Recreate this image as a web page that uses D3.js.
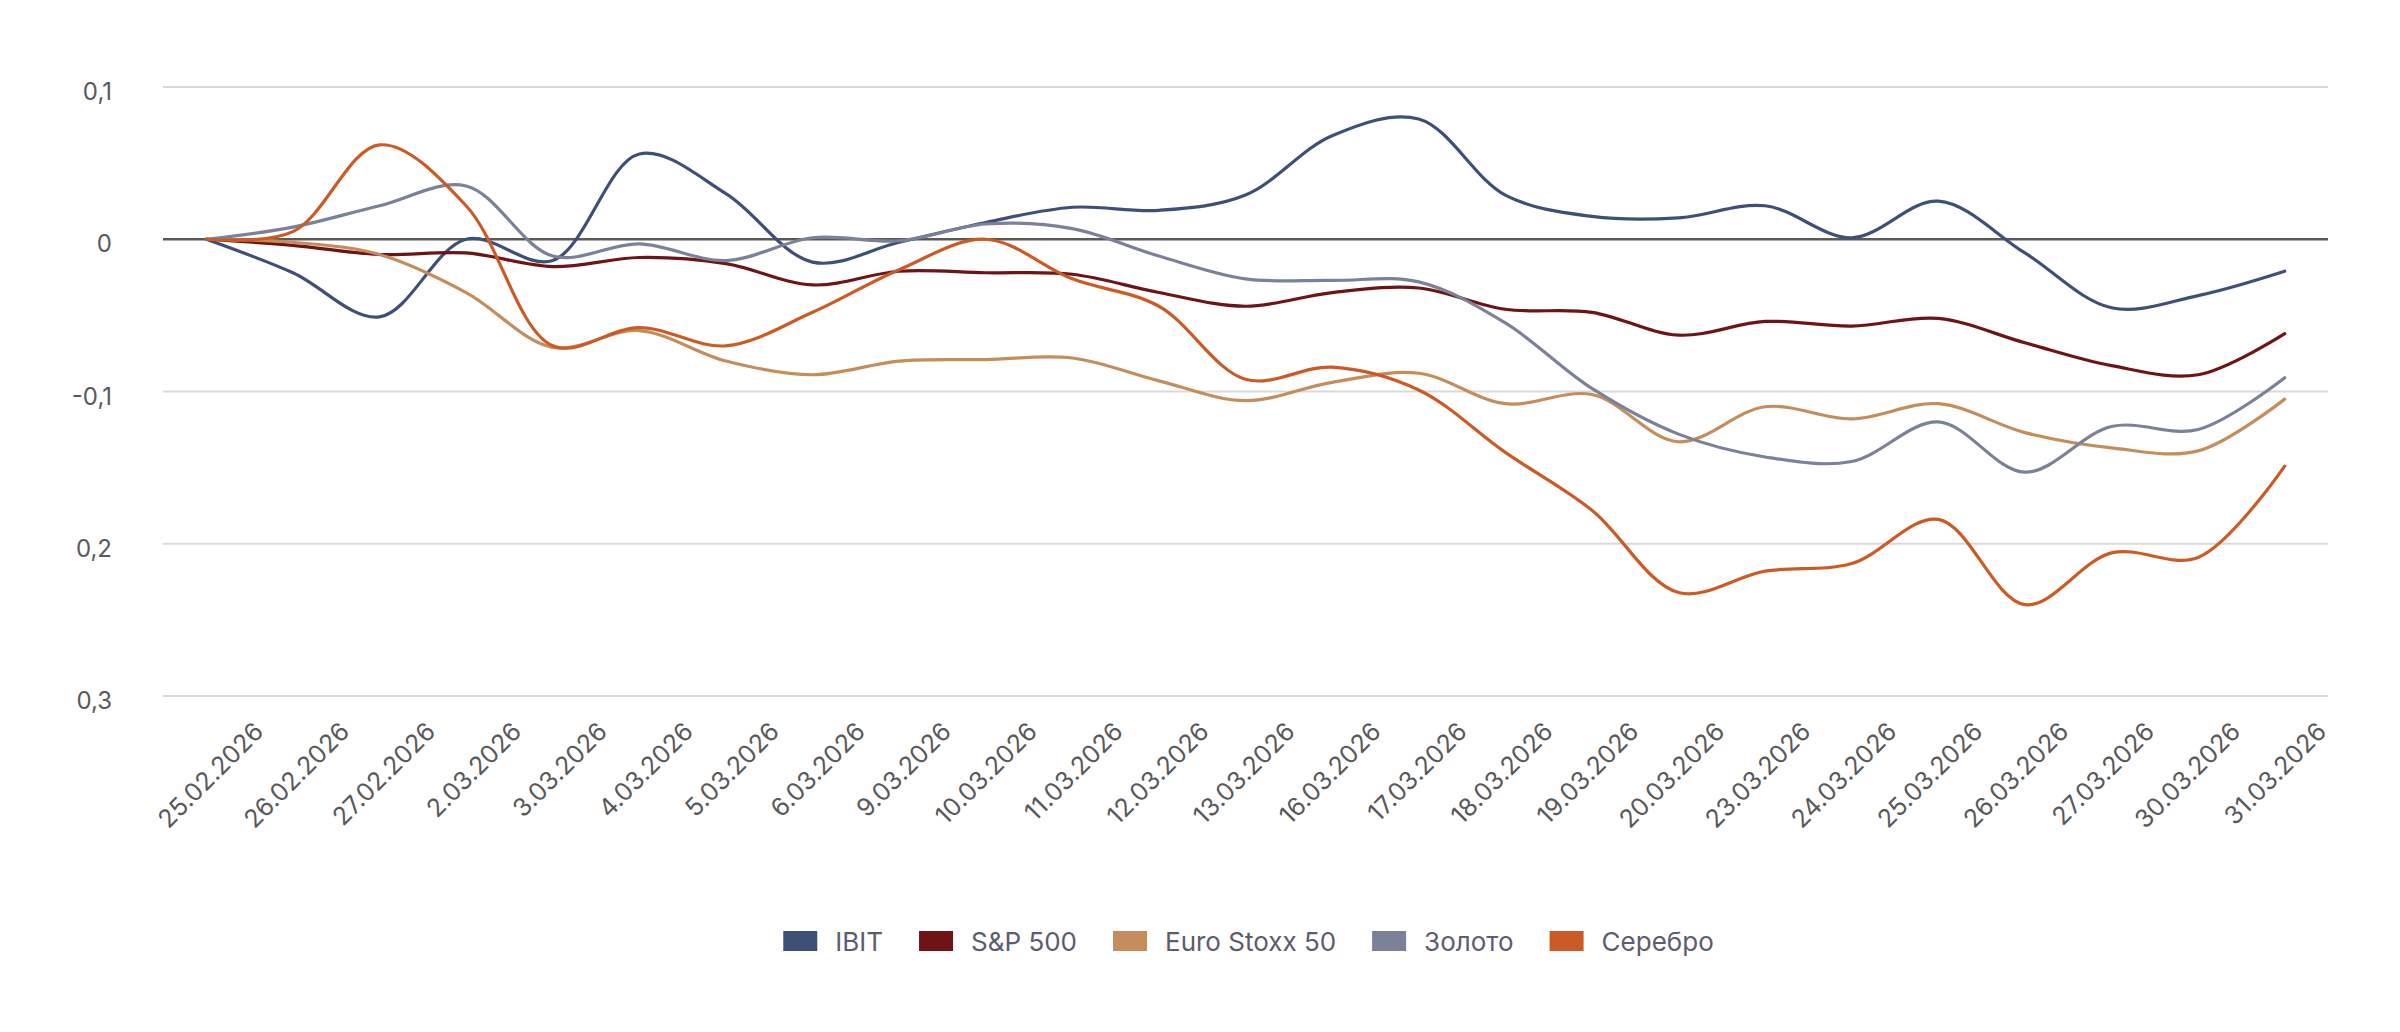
<!DOCTYPE html>
<html><head><meta charset="utf-8">
<script src="https://cdn.jsdelivr.net/npm/d3@7/dist/d3.min.js"></script>
<style>html,body{margin:0;padding:0;background:#fff;}svg{display:block;}</style>
</head><body>
<svg id="chart" width="2400" height="1032"></svg>
<script>
const dates = ["25.02.2026","26.02.2026","27.02.2026","2.03.2026","3.03.2026","4.03.2026","5.03.2026","6.03.2026","9.03.2026","10.03.2026","11.03.2026","12.03.2026","13.03.2026","16.03.2026","17.03.2026","18.03.2026","19.03.2026","20.03.2026","23.03.2026","24.03.2026","25.03.2026","26.03.2026","27.03.2026","30.03.2026","31.03.2026"];
const seriesNames = ["IBIT","S&P 500","Euro Stoxx 50","Золото","Серебро"];
const ibit   = [0,-0.022,-0.051,0.000,-0.014,0.056,0.030,-0.015,-0.002,0.011,0.021,0.019,0.029,0.068,0.079,0.029,0.015,0.014,0.022,0.001,0.025,-0.009,-0.045,-0.037,-0.021];
const sp500  = [0,-0.004,-0.010,-0.009,-0.018,-0.012,-0.016,-0.030,-0.021,-0.022,-0.023,-0.035,-0.044,-0.035,-0.032,-0.046,-0.048,-0.063,-0.054,-0.057,-0.052,-0.068,-0.083,-0.089,-0.062];
const stoxx  = [0,-0.002,-0.010,-0.035,-0.071,-0.060,-0.080,-0.089,-0.080,-0.079,-0.078,-0.093,-0.106,-0.094,-0.088,-0.108,-0.102,-0.133,-0.110,-0.118,-0.108,-0.127,-0.137,-0.139,-0.105];
const gold   = [0,0.008,0.022,0.035,-0.011,-0.003,-0.014,0.001,-0.001,0.010,0.007,-0.011,-0.026,-0.027,-0.028,-0.055,-0.098,-0.128,-0.143,-0.146,-0.120,-0.153,-0.123,-0.125,-0.091];
const silver = [0,0.005,0.062,0.022,-0.070,-0.058,-0.070,-0.048,-0.020,0.000,-0.026,-0.044,-0.092,-0.084,-0.099,-0.140,-0.178,-0.232,-0.218,-0.213,-0.184,-0.240,-0.206,-0.209,-0.149];
const yTickValues = [0.1, 0, -0.1, -0.2, -0.3];
const yTickLabels = ["0,1", "0", "-0,1", "0,2", "0,3"];
const colors = ["#3f5078", "#6e1316", "#c48d5b", "#7a8199", "#cc5a25"];

const series = [ibit, sp500, stoxx, gold, silver].map((vals, i) => ({name: seriesNames[i], color: colors[i], values: vals}));

const FONT = "Inter, 'Noto Sans', sans-serif";
const svg = d3.select("#chart");
const M = {left: 163, right: 2328, top: 87, bottom: 696};

const x = d3.scaleBand().domain(dates).range([M.left, M.right]);
const xc = d => x(d) + x.bandwidth() / 2;
const xLabel = d3.scalePoint().domain(dates).range([265, 2328]);
const y = d3.scaleLinear().domain([-0.3, 0.1]).range([M.bottom, M.top]);

// gridlines
svg.append("g").selectAll("line").data(yTickValues.filter(v => v !== 0)).join("line")
  .attr("x1", M.left).attr("x2", M.right)
  .attr("y1", d => y(d)).attr("y2", d => y(d))
  .attr("stroke", "#d9d9d9").attr("stroke-width", 2);

// y axis labels
const yAxis = d3.axisLeft(y).tickValues(yTickValues)
  .tickFormat((d, i) => yTickLabels[i]).tickSize(0).tickPadding(0);
const yg = svg.append("g").attr("transform", "translate(112,5)").call(yAxis);
yg.select(".domain").remove();
yg.selectAll("text").attr("font-family", FONT).attr("font-size", 24).attr("fill", "#595959");

// zero line
svg.append("line").attr("x1", M.left).attr("x2", M.right)
  .attr("y1", y(0)).attr("y2", y(0)).attr("stroke", "#595959").attr("stroke-width", 2.5);

// x labels
svg.append("g").selectAll("text").data(dates).join("text")
  .attr("transform", d => `translate(${xLabel(d)},733) rotate(-45)`)
  .attr("text-anchor", "end")
  .attr("font-family", FONT).attr("font-size", 25).attr("fill", "#595959")
  .text(d => d);

// lines
const line = d3.line().x((v, i) => xc(dates[i])).y(v => y(v)).curve(d3.curveCatmullRom.alpha(0.5));
svg.append("g").selectAll("path").data(series).join("path")
  .attr("d", s => line(s.values))
  .attr("fill", "none").attr("stroke", s => s.color).attr("stroke-width", 3.2)
  .attr("stroke-linejoin", "round").attr("stroke-linecap", "round");

// legend
const lg = svg.append("g");
const items = lg.selectAll("g").data(series).join("g");
items.append("rect").attr("width", 34).attr("height", 20).attr("y", 931).attr("fill", s => s.color);
items.append("text").attr("x", 52).attr("y", 951)
  .attr("font-family", FONT).attr("font-size", 26).attr("fill", "#5c5c6e")
  .text(s => s.name);
let widths = [];
items.each(function() { widths.push(d3.select(this).select("text").node().getComputedTextLength()); });
const itemW = widths.map(w => 52 + w);
const total = d3.sum(itemW) + 36 * (itemW.length - 1);
let cx = 1248.5 - total / 2;
items.attr("transform", (s, i) => { const t = `translate(${cx},0)`; cx += itemW[i] + 36; return t; });
</script>
</body></html>
